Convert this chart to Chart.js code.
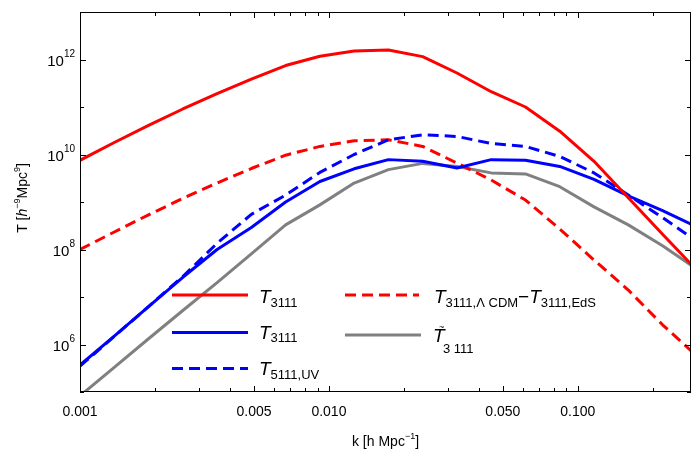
<!DOCTYPE html>
<html>
<head>
<meta charset="utf-8">
<script src="https://cdn.jsdelivr.net/npm/chart.js@4.4.1/dist/chart.umd.min.js"></script>
<style>
  html, body { margin: 0; padding: 0; background: #fff; }
</style>
</head>
<body>
<canvas id="tChart" width="692" height="454"></canvas>
<script>
// k grid [h/Mpc]
const kValues = [0.001, 0.001373, 0.001885, 0.002589, 0.003554, 0.00488, 0.0067, 0.0092, 0.012632,
  0.017344, 0.023814, 0.032697, 0.044894, 0.061641, 0.084634, 0.116203, 0.159549, 0.219065, 0.3];

// series values
const tRedSolid = [7.55e9, 1.79e10, 4.10e10, 9.08e10, 1.92e11, 3.87e11, 7.46e11, 1.17e12, 1.51e12,
  1.58e12, 1.15e12, 5.2e11, 2.1e11, 1.0e11, 3.1e10, 7.2e9, 1.23e9, 2.1e8, 3.7e7];
const tRedDashed = [1.0e8, 2.34e8, 5.37e8, 1.19e9, 2.51e9, 5.07e9, 9.66e9, 1.48e10, 1.95e10,
  2.04e10, 1.48e10, 6.6e9, 2.9e9, 1.1e9, 2.7e8, 6.0e7, 1.4e7, 2.6e6, 5.8e5];
const tBlueSolid = [3.7e5, 1.5e6, 6.3e6, 2.6e7, 1.0e8, 2.9e8, 1.0e9, 2.7e9, 5.0e9,
  7.8e9, 7.2e9, 5.2e9, 7.8e9, 7.6e9, 5.6e9, 3.0e9, 1.35e9, 6.6e8, 3.0e8];
const tBlueDashed = [3.5e5, 1.48e6, 6.3e6, 2.7e7, 1.35e8, 5.5e8, 1.4e9, 4.2e9, 1.0e10,
  2.04e10, 2.6e10, 2.4e10, 1.7e10, 1.48e10, 9.1e9, 4.1e9, 1.4e9, 4.7e8, 1.5e8];
const tGray = [8.3e4, 3.3e5, 1.32e6, 5.2e6, 2.0e7, 8.1e7, 3.3e8, 8.7e8, 2.5e9,
  4.8e9, 6.5e9, 5.6e9, 4.1e9, 3.9e9, 2.1e9, 7.9e8, 3.3e8, 1.2e8, 3.9e7];

// ticks
const xMajorTicks = [0.001, 0.005, 0.01, 0.05, 0.1];
const xTickLabels = ['0.001', '0.005', '0.010', '0.050', '0.100'];
const xMinorTicks = [0.002, 0.003, 0.004, 0.006, 0.007, 0.008, 0.009,
  0.02, 0.03, 0.04, 0.06, 0.07, 0.08, 0.09, 0.2];
const yMajorExp = [6, 8, 10, 12];
const yMinorExp = [5, 7, 9, 11, 13];

const FONT = '"Liberation Sans", Arial, sans-serif';

function toPoints(arr) {
  return kValues.map((k, i) => ({ x: k, y: arr[i] }));
}

// draws a list of text pieces one after another, returns end x
function drawRich(ctx, x, y, parts, measureOnly) {
  let cx = x;
  parts.forEach(p => {
    ctx.font = p.font;
    if (!measureOnly) ctx.fillText(p.t, cx + (p.dx || 0), y + (p.dy || 0));
    cx += ctx.measureText(p.t).width + (p.dx || 0);
  });
  return cx;
}

const big = 'italic 19px ' + FONT;
const sub = '13px ' + FONT;

const frameAndLabels = {
  id: 'frameAndLabels',
  afterDraw(chart) {
    const ctx = chart.ctx;
    const a = chart.chartArea;
    const xs = chart.scales.x;
    const ys = chart.scales.y;
    ctx.save();
    ctx.strokeStyle = '#000';
    ctx.lineWidth = 1;
    // frame
    ctx.strokeRect(a.left + 0.5, a.top + 0.5, a.right - a.left - 1, a.bottom - a.top - 1);

    // x ticks (inward, bottom and top)
    ctx.beginPath();
    const xTick = (v, len) => {
      const px = Math.round(xs.getPixelForValue(v)) + 0.5;
      ctx.moveTo(px, a.bottom); ctx.lineTo(px, a.bottom - len);
      ctx.moveTo(px, a.top); ctx.lineTo(px, a.top + len);
    };
    xMajorTicks.forEach(v => xTick(v, 6));
    xMinorTicks.forEach(v => xTick(v, 4));
    const yTick = (e, len) => {
      const py = Math.round(ys.getPixelForValue(Math.pow(10, e))) + 0.5;
      ctx.moveTo(a.left, py); ctx.lineTo(a.left + len, py);
      ctx.moveTo(a.right, py); ctx.lineTo(a.right - len, py);
    };
    yMajorExp.forEach(e => yTick(e, 6));
    yMinorExp.forEach(e => yTick(e, 4));
    ctx.stroke();

    ctx.fillStyle = '#000';
    ctx.textBaseline = 'alphabetic';

    // x tick labels
    ctx.font = '14px ' + FONT;
    ctx.textAlign = 'center';
    xMajorTicks.forEach((v, i) => {
      ctx.fillText(xTickLabels[i], xs.getPixelForValue(v), a.bottom + 24);
    });

    // y tick labels 10^n
    ctx.textAlign = 'left';
    yMajorExp.forEach(e => {
      const py = ys.getPixelForValue(Math.pow(10, e));
      const parts = [{ t: '10', font: '15px ' + FONT }, { t: String(e), font: '10px ' + FONT, dy: -9 }];
      const w = drawRich(ctx, 0, 0, parts, true);
      drawRich(ctx, a.left - 5 - w, py + 6, parts);
    });

    // x axis title
    const xt = [{ t: 'k [h Mpc', font: '14px ' + FONT }, { t: '−1', font: '9px ' + FONT, dy: -7 },
      { t: ']', font: '14px ' + FONT }];
    const xw = drawRich(ctx, 0, 0, xt, true);
    drawRich(ctx, (a.left + a.right) / 2 - xw / 2, 446, xt);

    // y axis title
    const yt = [{ t: 'T [', font: '14px ' + FONT }, { t: 'h', font: 'italic 14px ' + FONT },
      { t: '−9', font: '9px ' + FONT, dy: -7 }, { t: 'Mpc', font: '14px ' + FONT },
      { t: '9', font: '9px ' + FONT, dy: -7 }, { t: ']', font: '14px ' + FONT }];
    const yw = drawRich(ctx, 0, 0, yt, true);
    ctx.save();
    ctx.translate(26.5, 198);
    ctx.rotate(-Math.PI / 2);
    drawRich(ctx, -yw / 2, 0, yt);
    ctx.restore();

    // legend
    const legLine = (x1, x2, y, color, dash) => {
      ctx.save();
      ctx.strokeStyle = color;
      ctx.lineWidth = 3;
      ctx.setLineDash(dash || []);
      ctx.beginPath();
      ctx.moveTo(x1, y); ctx.lineTo(x2, y);
      ctx.stroke();
      ctx.restore();
    };
    legLine(172, 248, 295, '#ff0000');
    legLine(172, 248, 332.5, '#0000ff');
    legLine(172, 248, 368.5, '#0000ff', [11, 6]);
    legLine(345, 419, 295, '#ff0000', [11, 6]);
    legLine(345, 421, 335, '#808080');

    drawRich(ctx, 259, 303, [{ t: 'T', font: big }, { t: '3111', font: sub, dy: 3.5 }]);
    drawRich(ctx, 259, 338.5, [{ t: 'T', font: big }, { t: '3111', font: sub, dy: 3.5 }]);
    drawRich(ctx, 259, 375, [{ t: 'T', font: big }, { t: '5111,UV', font: sub, dy: 3.5 }]);
    drawRich(ctx, 434, 303, [{ t: 'T', font: big }, { t: '3111,Λ CDM', font: sub, dy: 3.5 },
      { t: '−', font: '19px ' + FONT }, { t: 'T', font: big }, { t: '3111,EdS', font: sub, dy: 3.5 }]);
    drawRich(ctx, 433, 341.5, [{ t: 'T', font: big }]);
    ctx.font = '9px ' + FONT;
    ctx.fillText('~', 439, 330);
    ctx.font = sub;
    ctx.fillText('3 111', 443, 353);
    ctx.restore();
  }
};

const lineDefaults = { borderWidth: 3, pointRadius: 0, tension: 0, fill: false, clip: 0, borderJoinStyle: 'round' };

new Chart(document.getElementById('tChart').getContext('2d'), {
  type: 'line',
  data: {
    datasets: [
      Object.assign({ label: 'T3111', data: toPoints(tRedSolid), borderColor: '#ff0000' }, lineDefaults),
      Object.assign({ label: 'T3111 blue', data: toPoints(tBlueSolid), borderColor: '#0000ff' }, lineDefaults),
      Object.assign({ label: 'T5111,UV', data: toPoints(tBlueDashed), borderColor: '#0000ff', borderDash: [11, 6] }, lineDefaults),
      Object.assign({ label: 'T3111,LCDM-T3111,EdS', data: toPoints(tRedDashed), borderColor: '#ff0000', borderDash: [11, 6] }, lineDefaults),
      Object.assign({ label: 'T~3111', data: toPoints(tGray), borderColor: '#808080' }, lineDefaults)
    ]
  },
  options: {
    responsive: false,
    animation: false,
    devicePixelRatio: 1,
    layout: { padding: { left: 80, top: 12, right: 1, bottom: 62 } },
    plugins: { legend: { display: false }, tooltip: { enabled: false } },
    scales: {
      x: { type: 'logarithmic', min: 0.001, max: 0.285, display: false },
      y: { type: 'logarithmic', min: 1e5, max: 1e13, display: false }
    }
  },
  plugins: [frameAndLabels]
});
</script>
</body>
</html>
